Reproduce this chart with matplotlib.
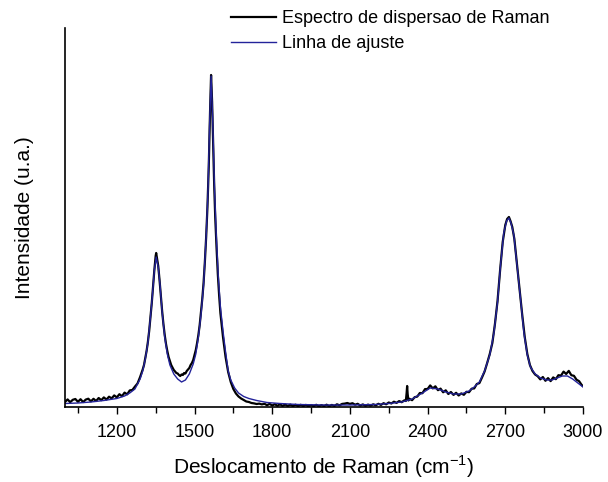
import matplotlib
matplotlib.use("Agg")
import matplotlib.pyplot as plt
from matplotlib.ticker import MultipleLocator

plt.rcParams["font.family"] = ["Liberation Sans", "DejaVu Sans"]
plt.rcParams["mathtext.fontset"] = "custom"
plt.rcParams["mathtext.rm"] = "Liberation Sans"

# measured spectrum (Raman shift in cm^-1, intensity in a.u.)
raman_shift = [
    1000, 1010, 1020, 1030, 1040, 1050, 1060, 1070, 1080, 1090, 1100, 1110, 1120, 1130, 1140, 1150,
    1160, 1170, 1180, 1190, 1200, 1210, 1220, 1230, 1240, 1250, 1260, 1270, 1280, 1290, 1300,
    1305, 1310, 1315, 1320, 1325, 1330, 1335, 1340, 1345, 1350, 1352, 1355, 1360, 1365, 1370, 1375,
    1380, 1385, 1390, 1395, 1400, 1405, 1410, 1415, 1420, 1425, 1430, 1435, 1440, 1445, 1450, 1455,
    1460, 1465, 1470, 1475, 1480, 1485, 1490, 1495, 1500, 1505, 1510, 1515, 1520, 1525, 1530, 1535,
    1540, 1545, 1550, 1555, 1560, 1564, 1568, 1572, 1576, 1580, 1585, 1590, 1595, 1600,
    1610, 1620, 1630, 1640, 1650, 1660, 1670, 1680, 1690, 1700, 1710, 1720, 1730, 1740, 1750, 1760,
    1770, 1780, 1790, 1800, 1810, 1820, 1830, 1840, 1850, 1860, 1870, 1880, 1890, 1900, 1910, 1920,
    1930, 1940, 1950, 1960, 1970, 1980, 1990, 2000, 2010, 2020, 2030, 2040, 2050, 2060, 2070, 2080,
    2090, 2100, 2110, 2120, 2130, 2140, 2150, 2160, 2170, 2180, 2190, 2200, 2210, 2220, 2230, 2240,
    2250, 2260, 2270, 2280, 2290, 2300, 2310, 2316, 2319, 2321, 2323, 2326, 2330, 2340, 2350, 2360,
    2370, 2380, 2390, 2400, 2410, 2420, 2430, 2440, 2450, 2460, 2470, 2480, 2490, 2500, 2510, 2520,
    2530, 2540, 2550, 2560, 2570, 2580, 2590, 2600, 2610, 2620, 2630, 2640, 2650, 2660, 2670, 2680,
    2690, 2700, 2707, 2714, 2720, 2727, 2735, 2745, 2755, 2765, 2775, 2785, 2795, 2805, 2815, 2825,
    2835, 2845, 2855, 2865, 2875, 2885, 2895, 2905, 2915, 2925, 2935, 2945, 2955, 2965, 2975, 2985,
    2995, 3000,
]
raman_intensity = [
    5.0, 7.6, 4.8, 7.2, 8.0, 5.2, 7.8, 4.9, 7.4, 8.3, 5.6, 8.2, 6.0, 9.0, 6.8, 9.6,
    7.4, 10.3, 8.6, 11.6, 9.6, 12.8, 10.8, 14.4, 12.6, 16.6, 17.0, 20.4, 23.5, 30.0, 37.5,
    42, 49, 56, 65, 76, 90, 104, 121, 137, 151, 154, 149, 141, 127, 111, 96,
    83, 72, 63, 56, 50, 46, 42, 39.5, 37, 35.5, 34, 33.5, 32, 31, 32.5, 32,
    34, 33.5, 36, 37.5, 39, 42, 44, 47, 52, 57, 64, 72, 82, 95, 108, 124,
    145, 170, 200, 240, 295, 332, 305, 262, 222, 190, 160, 133, 112, 94,
    70, 50, 35, 25, 18, 13.5, 10.5, 8.5, 7.0, 5.5, 5.0, 4.0, 3.6, 3.0, 3.4, 2.6,
    3.2, 1.8, 3.1, 1.5, 2.8, 1.2, 2.7, 1.1, 2.5, 1.0, 2.4, 0.9, 2.3, 0.8, 2.2, 0.9,
    2.1, 0.7, 2.0, 0.9, 2.2, 0.7, 1.9, 0.9, 2.3, 0.8, 2.1, 1.1, 2.7, 1.7, 3.1, 3.4,
    4.0, 3.1, 3.8, 2.3, 3.2, 1.5, 2.6, 1.2, 2.4, 1.3, 2.7, 1.7, 3.2, 2.1, 3.8, 2.7,
    4.5, 3.5, 5.3, 4.1, 5.9, 4.8, 6.6, 6.0, 14, 21, 13, 6.5, 8.2, 6.8, 9.8, 10.4,
    14.0, 13.8, 17.9, 18.0, 21.6, 18.6, 20.7, 16.8, 18.4, 14.7, 16.7, 13.0, 15.0, 12.1, 14.2, 11.5,
    13.6, 12.2, 15.2, 14.8, 18.3, 18.6, 23.0, 23.9, 29.5, 35.5, 44, 53, 64, 83, 106, 137,
    165, 182, 188, 190, 186, 180, 168, 143, 117, 93, 70, 53, 42, 36, 32.5, 30.8,
    27.6, 30.0, 26.2, 28.9, 25.9, 29.6, 27.8, 31.8, 31.4, 35.4, 33.0, 36.1, 31.8, 31.2, 27.3, 25.8,
    22.0, 21.0,
]

# fitted curve
fit_shift = [
    1000, 1050, 1100, 1150, 1200, 1230, 1250, 1270, 1290, 1300, 1310, 1320, 1330, 1337, 1345, 1352,
    1360, 1367, 1375, 1385, 1395, 1405, 1420, 1435, 1450, 1465, 1480, 1495, 1505, 1515, 1525, 1535,
    1545, 1552, 1558, 1564, 1570, 1577, 1584, 1592, 1600, 1610, 1620, 1630, 1640, 1655, 1670, 1690,
    1710, 1740, 1780, 1830, 1900, 2000, 2100, 2200, 2250, 2300, 2340, 2380, 2410, 2440, 2470, 2500,
    2530, 2560, 2580, 2600, 2620, 2640, 2656, 2670, 2681, 2694, 2705, 2714, 2722, 2733, 2746, 2760,
    2772, 2785, 2797, 2815, 2836, 2860, 2880, 2900, 2920, 2940, 2960, 2980, 3000,
]
fit_intensity = [
    3.5, 4.0, 5.0, 6.5, 8.5, 11, 14, 18, 28, 36, 48, 64, 90, 110, 137, 150,
    140, 122, 95, 70, 53, 42, 33, 28, 25, 27, 33, 43, 53, 70, 92, 122,
    170, 215, 280, 331, 290, 220, 172, 130, 100, 76, 55, 36, 27, 19, 14, 10.5,
    8.5, 6.5, 4.5, 3.5, 2.5, 2.0, 2.0, 2.5, 3.5, 5.0, 8.0, 14, 19, 18, 15, 13,
    13, 16, 20, 25, 36, 52, 74, 105, 140, 174, 186, 189, 184, 172, 140, 105,
    74, 52, 40, 33, 29, 27, 27, 29, 31, 31, 28, 24, 20,
]

fig = plt.figure(figsize=(6.08, 4.82), dpi=100)
ax = fig.add_axes([65 / 608, 75 / 482, 518 / 608, 379 / 482])

ax.plot(raman_shift, raman_intensity, color="black", lw=1.6, label="Espectro de dispersao de Raman")
ax.plot(fit_shift, fit_intensity, color="#23239a", lw=1.0, label="Linha de ajuste")

ax.set_xlim(1000, 3000)
ax.set_ylim(0, 379)
ax.xaxis.set_minor_locator(MultipleLocator(150))
ax.set_xticks([1200, 1500, 1800, 2100, 2400, 2700, 3000])
ax.set_yticks([])
ax.tick_params(axis="x", which="major", direction="out", length=5, width=1, labelsize=13, pad=7)
ax.tick_params(axis="x", which="minor", direction="out", length=4, width=1)
for s in ("top", "right"):
    ax.spines[s].set_visible(False)
for s in ("left", "bottom"):
    ax.spines[s].set_linewidth(1.2)

ax.set_xlabel("Deslocamento de Raman (cm$^{-1}$)", fontsize=15, labelpad=9)
ax.set_ylabel("Intensidade (u.a.)", fontsize=15, labelpad=22)

fig.legend(loc="upper left", bbox_to_anchor=(231 / 608, 1 - 10 / 482), frameon=False,
           fontsize=13, handlelength=2.5, handletextpad=0.3, labelspacing=0.45,
           borderpad=0, borderaxespad=0)

fig.savefig("out.png", dpi=100)
